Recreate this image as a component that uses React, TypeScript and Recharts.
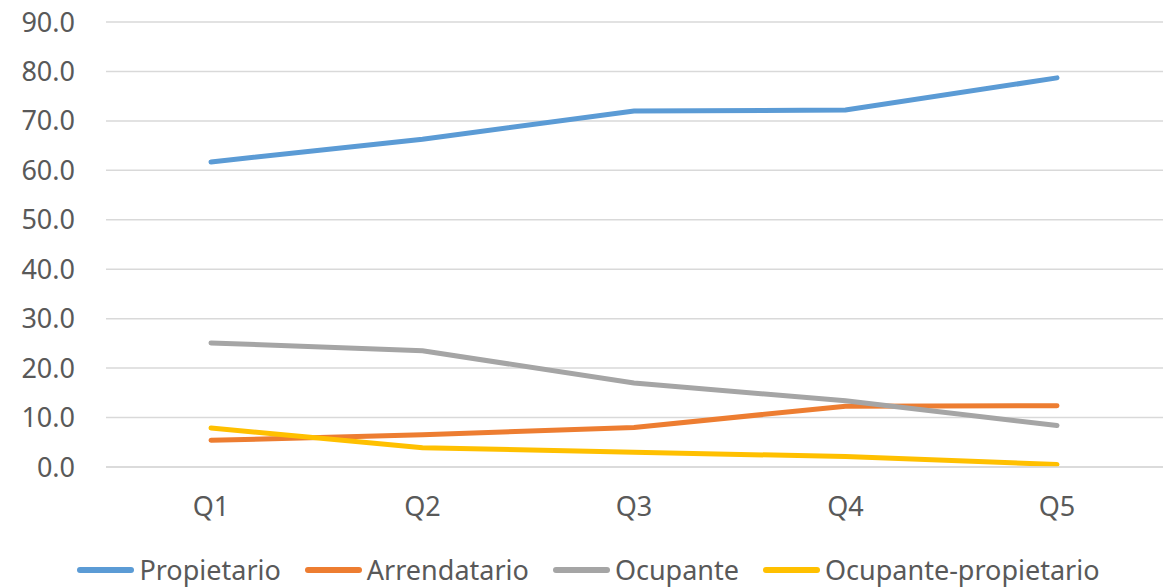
import { LineChart, Line, XAxis, YAxis, CartesianGrid, Legend } from 'recharts'

const QUINTILES = ['Q1', 'Q2', 'Q3', 'Q4', 'Q5']
const PROPIETARIO = [61.7, 66.3, 72.0, 72.2, 78.7]
const ARRENDATARIO = [5.4, 6.5, 8.0, 12.3, 12.4]
const OCUPANTE = [25.1, 23.5, 17.0, 13.4, 8.4]
const OCUPANTE_PROPIETARIO = [7.9, 3.9, 3.0, 2.1, 0.5]
const Y_TICKS = [0, 10, 20, 30, 40, 50, 60, 70, 80, 90]

const SERIES = [
  { key: 'propietario', name: 'Propietario', color: '#5b9bd5' },
  { key: 'arrendatario', name: 'Arrendatario', color: '#ed7d31' },
  { key: 'ocupante', name: 'Ocupante', color: '#a5a5a5' },
  { key: 'ocupanteProp', name: 'Ocupante-propietario', color: '#ffc000' },
]

const FONT = '"Noto Sans", sans-serif'

function LegendContent() {
  return (
    <div style={{ display: 'flex', justifyContent: 'center', gap: 24, fontFamily: FONT, fontSize: 27, color: '#595959', lineHeight: '36px', paddingLeft: 14 }}>
      {SERIES.map(s => (
        <div key={s.key} style={{ display: 'flex', alignItems: 'center' }}>
          <span style={{ display: 'inline-block', width: 57, height: 6, borderRadius: 3, background: s.color, marginRight: 5 }} />
          <span>{s.name}</span>
        </div>
      ))}
    </div>
  )
}

export default function App() {
  const data = QUINTILES.map((q, i) => ({
    q,
    propietario: PROPIETARIO[i],
    arrendatario: ARRENDATARIO[i],
    ocupante: OCUPANTE[i],
    ocupanteProp: OCUPANTE_PROPIETARIO[i],
  }))

  return (
    <div style={{ position: 'absolute', left: 0, top: 0, background: '#fff' }}>
      <LineChart width={1173} height={588} data={data} margin={{ top: 22, right: 10, left: 0, bottom: 0 }}>
        <CartesianGrid vertical={false} stroke="#d9d9d9" strokeWidth={1.5} />
        <XAxis
          dataKey="q"
          height={85}
          padding={{ left: 105, right: 106 }}
          axisLine={{ stroke: '#d9d9d9', strokeWidth: 1.5 }}
          tickLine={false}
          tickSize={0}
          tickMargin={30}
          tick={{ fill: '#595959', fontSize: 27, fontFamily: FONT }}
        />
        <YAxis
          width={106}
          domain={[0, 90]}
          ticks={Y_TICKS}
          axisLine={false}
          tickLine={false}
          tickSize={0}
          tickMargin={31}
          tickFormatter={(v: number) => v.toFixed(1)}
          tick={{ fill: '#595959', fontSize: 27, fontFamily: FONT }}
        />
        <Legend verticalAlign="bottom" height={36} content={<LegendContent />} />
        {SERIES.map(s => (
          <Line
            key={s.key}
            type="linear"
            dataKey={s.key}
            name={s.name}
            stroke={s.color}
            strokeWidth={5}
            strokeLinecap="round"
            dot={false}
            activeDot={false}
            isAnimationActive={false}
          />
        ))}
      </LineChart>
    </div>
  )
}
